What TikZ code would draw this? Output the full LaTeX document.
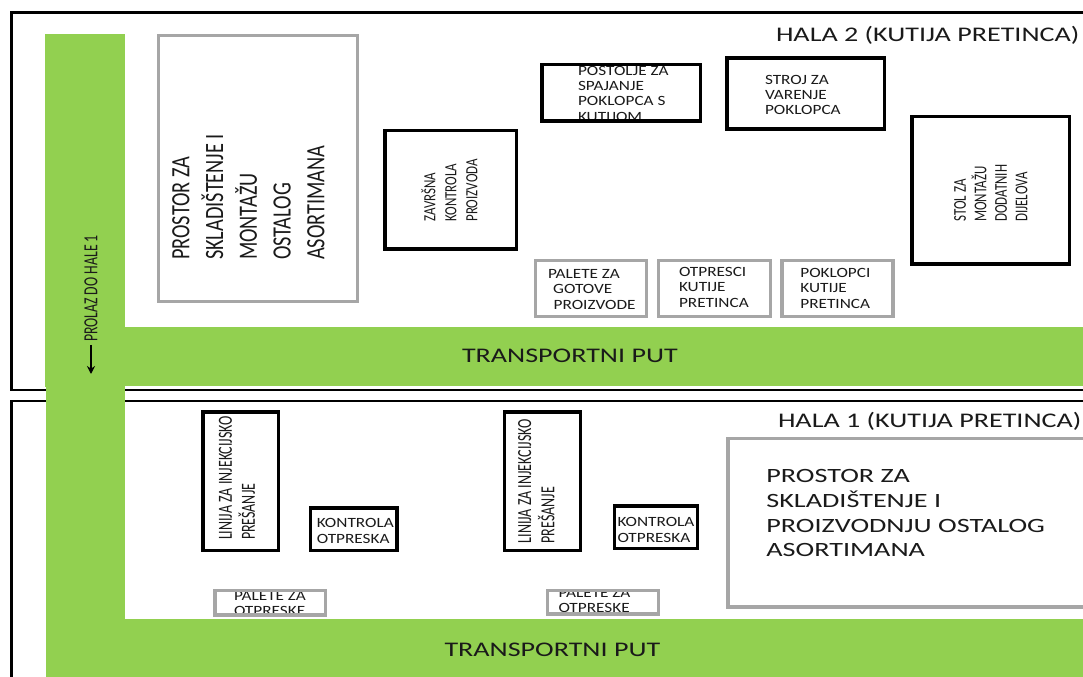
\documentclass[tikz,border=0pt]{standalone}
\usepackage{fontspec}
\setmainfont{Carlito}
\usetikzlibrary{arrows.meta}
\definecolor{roadgreen}{HTML}{92D050}
\definecolor{boxgray}{HTML}{A6A6A6}
\definecolor{inktext}{HTML}{1A1A1A}
\tikzset{
  x=0.75pt,y=-0.75pt,
  hallframe/.style={draw=black,line width=2pt},
  blackbox/.style={draw=black,line width=2.8pt,fill=none},
  graybox/.style={draw=boxgray,line width=2.7pt,fill=none},
  road/.style={fill=roadgreen,draw=none},
  lab/.style={inner sep=0pt,outer sep=0pt,text=inktext,align=left,anchor=west,xscale=1.22,font=\fontsize{10.6pt}{11.5pt}\selectfont},
  rotlab/.style={inner sep=0pt,outer sep=0pt,text=inktext,align=left,anchor=west,rotate=90},
  big/.style={inner sep=0pt,outer sep=0pt,text=inktext,anchor=west,xscale=1.35,font=\fontsize{15.6pt}{18pt}\selectfont},
}
\begin{document}
\begin{tikzpicture}
\fill[white] (0,0) rectangle (1083,677);
\clip (0,0) rectangle (1083,677);
% hall frames
\draw[hallframe] (1200,12.5) -- (11.5,12.5) -- (11.5,390) -- (1200,390);
\draw[hallframe] (1200,401) -- (11.5,401) -- (11.5,800);
% roads
\fill[road] (45,34) rectangle (124.7,387);
\fill[road] (124,327) rectangle (1090,385.7);
\fill[road] (46,386) rectangle (124.7,680);
\fill[road] (124,618.7) rectangle (1090,680);
% titles
\node[big] (hala2) at (776,35) {HALA 2 (KUTIJA PRETINCA)};
\node[big] (hala1) at (778,421) {HALA 1 (KUTIJA PRETINCA)};
\node[big] (put2) at (462,356) {TRANSPORTNI PUT};
\node[big] (put1) at (444.5,650) {TRANSPORTNI PUT};
% passage label and arrow
\node[rotlab,xscale=.69,font=\fontsize{15pt}{18pt}\selectfont] (prolaz) at (91,342) {PROLAZ DO HALE 1};
\coordinate (arrowstart) at (91,345);
\coordinate (arrowend) at (91,374);
\draw[line width=1.2pt,-{Stealth[length=6pt,width=6pt]}] (arrowstart) -- (arrowend);
% hall 2 boxes
\draw[graybox] (158.5,35.5) rectangle (357.5,301.5);
\node[rotlab,xscale=.77,font=\fontsize{19.8pt}{25.3pt}\selectfont] (prostor2) at (248.4,260) {PROSTOR ZA\\SKLADIŠTENJE I\\MONTAŽU\\OSTALOG\\ASORTIMANA};
\draw[blackbox] (385,130.5) rectangle (516.5,249.2);
\node[rotlab,xscale=.76,font=\fontsize{12.8pt}{15.8pt}\selectfont] (zavrsna) at (449.5,221.7) {ZAVRŠNA\\KONTROLA\\PROIZVODA};
\begin{scope}
\clip (542,64.5) rectangle (700.5,121.2);
\node[lab] (postolje) at (578,93.7) {POSTOLJE ZA\\SPAJANJE\\POKLOPCA S\\KUTIJOM};
\end{scope}
\draw[blackbox] (542.3,64.5) rectangle (700.5,121.2);
\draw[blackbox] (727.2,58) rectangle (884.5,128.7);
\node[lab] (stroj) at (765,95) {STROJ ZA\\VARENJE\\POKLOPCA};
\draw[blackbox] (912.2,116.5) rectangle (1069.5,264.2);
\node[rotlab,xscale=.72,font=\fontsize{13.5pt}{15.4pt}\selectfont] (stol) at (990.8,221.7) {STOL ZA\\MONTAŽU\\DODATNIH\\DIJELOVA};
\draw[graybox] (535.5,260.5) rectangle (646.5,316.5);
\node[lab] (palete) at (548,289.3) {PALETE ZA\\\hspace*{3.2pt}GOTOVE\\\hspace*{3.5pt}PROIZVODE};
\draw[graybox] (658.5,260.5) rectangle (770.5,316.5);
\node[lab] (otpresci) at (679,287.3) {OTPRESCI\\KUTIJE\\PRETINCA};
\draw[graybox] (782.2,260.5) rectangle (893,316.5);
\node[lab] (poklopci) at (800.4,288.3) {POKLOPCI\\KUTIJE\\PRETINCA};
% hall 1 boxes
\draw[blackbox] (202.9,412.2) rectangle (278.5,550.5);
\node[rotlab,xscale=.70,font=\fontsize{15pt}{17.3pt}\selectfont] (linija1) at (237,540) {LINIJA ZA INJEKCIJSKO\\PREŠANJE};
\draw[blackbox] (310.5,508.2) rectangle (396.9,550.5);
\node[lab] (kontrola1) at (316.8,531.1) {KONTROLA\\OTPRESKA};
\begin{scope}
\clip (215,590.5) rectangle (325.5,615.2);
\node[lab] (palete1) at (234,603.8) {PALETE ZA\\OTPRESKE};
\end{scope}
\draw[graybox] (215,590.5) rectangle (325.5,615.2);
\draw[blackbox] (504.5,412.2) rectangle (580.5,550.5);
\node[rotlab,xscale=.70,font=\fontsize{15pt}{17.3pt}\selectfont] (linija2) at (536.3,543.3) {LINIJA ZA INJEKCIJSKO\\PREŠANJE};
\draw[blackbox] (614.5,506.2) rectangle (697.5,548.5);
\node[lab] (kontrola2) at (617.5,530.1) {KONTROLA\\OTPRESKA};
\begin{scope}
\clip (547.5,590.5) rectangle (658.5,614.2);
\node[lab] (palete2) at (558.5,600.5) {PALETE ZA\\OTPRESKE};
\end{scope}
\draw[graybox] (547.5,590.5) rectangle (658.5,614.2);
\draw[graybox] (727.9,438.5) rectangle (1200,607.2);
\node[inner sep=0pt,text=inktext,align=left,anchor=west,xscale=1.39,font=\fontsize{15.2pt}{18.5pt}\selectfont] (prostor1) at (766,513.2) {PROSTOR ZA\\SKLADIŠTENJE I\\PROIZVODNJU OSTALOG\\ASORTIMANA};
\end{tikzpicture}
\end{document}
